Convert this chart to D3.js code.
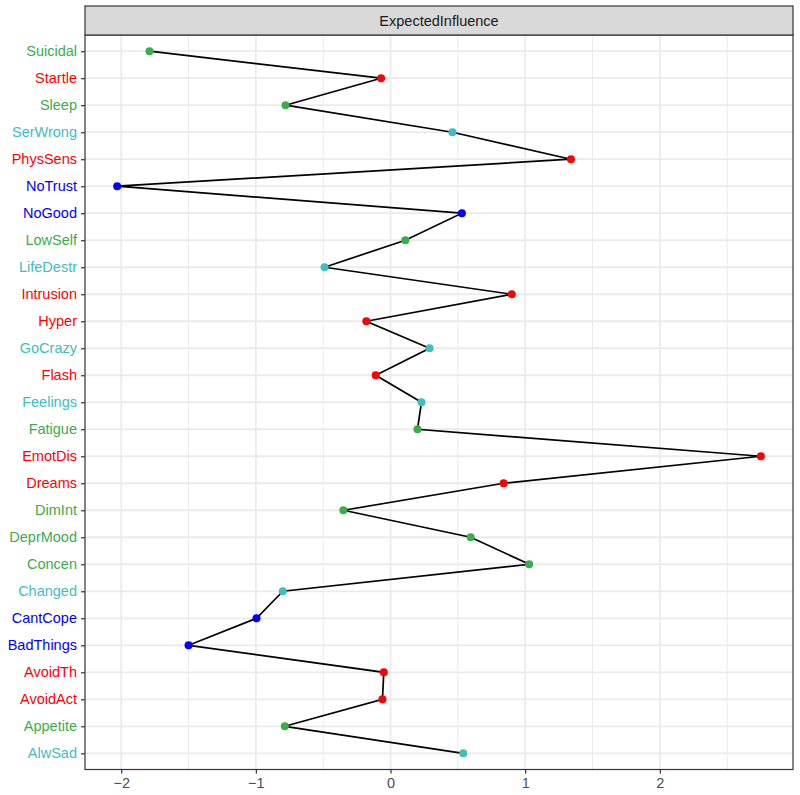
<!DOCTYPE html>
<html>
<head>
<meta charset="utf-8">
<script src="https://cdn.jsdelivr.net/npm/d3@7"></script>
<style>
  body { margin: 0; background: #fff; }
  svg text { font-family: "Liberation Sans", Arial, Helvetica, sans-serif; }
</style>
</head>
<body>
<div id="chart"></div>
<script>
// Nodes, top to bottom as they appear on the y axis
const nodes = ['Suicidal', 'Startle', 'Sleep', 'SerWrong', 'PhysSens', 'NoTrust', 'NoGood', 'LowSelf',
  'LifeDestr', 'Intrusion', 'Hyper', 'GoCrazy', 'Flash', 'Feelings', 'Fatigue', 'EmotDis', 'Dreams',
  'DimInt', 'DeprMood', 'Concen', 'Changed', 'CantCope', 'BadThings', 'AvoidTh', 'AvoidAct',
  'Appetite', 'AlwSad']

const expectedInfluence = [-1.79, -0.07, -0.78, 0.46, 1.34, -2.03, 0.53, 0.11,
  -0.49, 0.90, -0.18, 0.29, -0.11, 0.23, 0.20, 2.75, 0.84,
  -0.35, 0.595, 1.03, -0.80, -0.995, -1.50, -0.05, -0.06,
  -0.785, 0.54]

const groups = ['g', 'r', 'g', 'c', 'r', 'b', 'b', 'g',
  'c', 'r', 'r', 'c', 'r', 'c', 'g', 'r', 'r',
  'g', 'g', 'g', 'c', 'b', 'b', 'r', 'r',
  'g', 'c']

const groupColours = { r: '#ff0000', g: '#3aad4a', c: '#3ebdc2', b: '#0000ff' }

const xTicks = [-2, -1, 0, 1, 2]
const xMinor = [-1.5, -0.5, 0.5, 1.5, 2.5]
const stripLabel = 'ExpectedInfluence'

const width = 800
const height = 795
const panel = { left: 85, right: 793, top: 35, bottom: 769.5 }
const stripTop = 6

const data = nodes.map((n, i) => ({ node: n, value: expectedInfluence[i], group: groups[i] }))

// ggplot style 5% expansion on the continuous axis
const ext = d3.extent(expectedInfluence)
const pad = (ext[1] - ext[0]) * 0.05
const x = d3.scaleLinear()
  .domain([ext[0] - pad, ext[1] + pad])
  .range([panel.left, panel.right])

// discrete axis with 0.6 unit expansion
const step = (panel.bottom - panel.top) / (nodes.length - 1 + 1.2)
const y = d3.scalePoint()
  .domain(nodes)
  .range([panel.top + 0.6 * step, panel.bottom - 0.6 * step])

const svg = d3.select('#chart').append('svg')
  .attr('width', width)
  .attr('height', height)

svg.append('rect')
  .attr('width', width)
  .attr('height', height)
  .attr('fill', 'white')

// Grid
const gGrid = svg.append('g')
gGrid.selectAll('line.minor')
  .data(xMinor)
  .join('line')
  .attr('class', 'minor')
  .attr('x1', d => x(d)).attr('x2', d => x(d))
  .attr('y1', panel.top).attr('y2', panel.bottom)
  .attr('stroke', '#ebebeb')
  .attr('stroke-width', 1)

gGrid.selectAll('line.major')
  .data(xTicks)
  .join('line')
  .attr('class', 'major')
  .attr('x1', d => x(d)).attr('x2', d => x(d))
  .attr('y1', panel.top).attr('y2', panel.bottom)
  .attr('stroke', '#ebebeb')
  .attr('stroke-width', 1.8)

gGrid.selectAll('line.ymajor')
  .data(nodes)
  .join('line')
  .attr('class', 'ymajor')
  .attr('x1', panel.left).attr('x2', panel.right)
  .attr('y1', d => y(d)).attr('y2', d => y(d))
  .attr('stroke', '#ebebeb')
  .attr('stroke-width', 1.8)

// Line + points
const line = d3.line()
  .x(d => x(d.value))
  .y(d => y(d.node))

svg.append('path')
  .datum(data)
  .attr('d', line)
  .attr('fill', 'none')
  .attr('stroke', 'black')
  .attr('stroke-width', 1.7)

svg.append('g')
  .selectAll('circle')
  .data(data)
  .join('circle')
  .attr('cx', d => x(d.value))
  .attr('cy', d => y(d.node))
  .attr('r', 4)
  .attr('fill', d => groupColours[d.group])

// Panel border
svg.append('rect')
  .attr('x', panel.left)
  .attr('y', panel.top)
  .attr('width', panel.right - panel.left)
  .attr('height', panel.bottom - panel.top)
  .attr('fill', 'none')
  .attr('stroke', '#333333')
  .attr('stroke-width', 1.2)

// Strip
svg.append('rect')
  .attr('x', panel.left)
  .attr('y', stripTop)
  .attr('width', panel.right - panel.left)
  .attr('height', panel.top - stripTop)
  .attr('fill', '#d9d9d9')
  .attr('stroke', '#333333')
  .attr('stroke-width', 1.2)

svg.append('text')
  .attr('x', (panel.left + panel.right) / 2)
  .attr('y', (stripTop + panel.top) / 2)
  .attr('dy', '0.35em')
  .attr('text-anchor', 'middle')
  .attr('fill', '#1a1a1a')
  .style('font-size', '14.5px')
  .text(stripLabel)

// X axis
const xAxis = svg.append('g')
  .attr('transform', `translate(0,${panel.bottom})`)
  .call(d3.axisBottom(x).tickValues(xTicks).tickSize(4).tickPadding(4)
    .tickFormat(d => d < 0 ? '\u2212' + Math.abs(d) : d))
xAxis.select('.domain').remove()
xAxis.selectAll('line').attr('stroke', '#333333').attr('stroke-width', 1.2)
xAxis.selectAll('text').attr('fill', '#4d4d4d').style('font-size', '14.5px')

// Y axis
const yAxis = svg.append('g')
  .attr('transform', `translate(${panel.left},0)`)
  .call(d3.axisLeft(y).tickSize(4).tickPadding(4))
yAxis.select('.domain').remove()
yAxis.selectAll('line').attr('stroke', '#333333').attr('stroke-width', 1.2)
yAxis.selectAll('text')
  .attr('fill', d => groupColours[groups[nodes.indexOf(d)]])
  .style('font-size', '14.5px')
</script>
</body>
</html>
